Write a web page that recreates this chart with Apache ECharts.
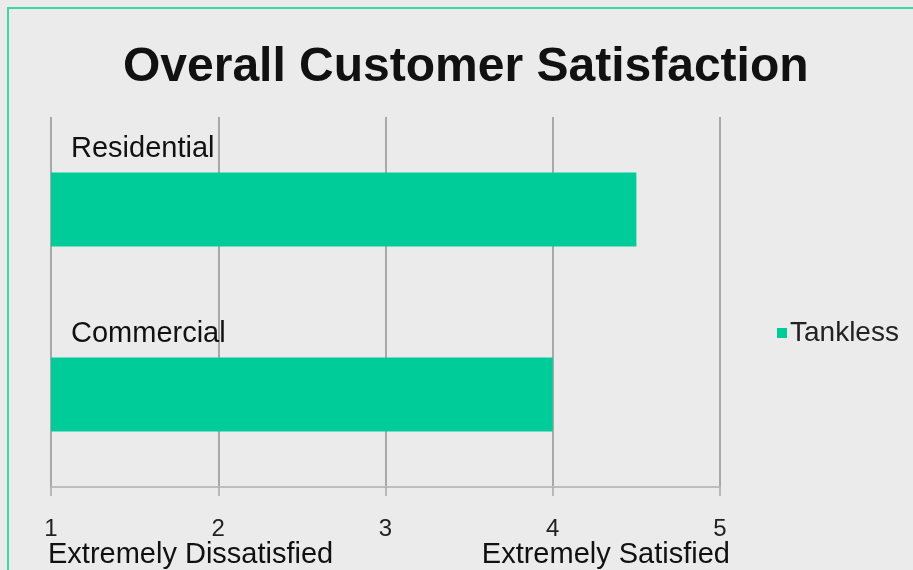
<!DOCTYPE html>
<html><head><meta charset="utf-8">
<script src="https://cdn.jsdelivr.net/npm/echarts@6/dist/echarts.min.js"></script>
<style>html,body{margin:0;padding:0;background:#ebebeb;}#c{width:913px;height:570px;}</style>
</head><body><div id="c"></div>
<script>
const titleText = 'Overall Customer Satisfaction';
const categories = ['Residential', 'Commercial'];
const seriesName = 'Tankless';
const values = [4.5, 4.0];
const scaleMin = 1, scaleMax = 5;
const endLabels = ['Extremely Dissatisfied', 'Extremely Satisfied'];

const chart = echarts.init(document.getElementById('c'));
const font = 'Liberation Sans, Arial, sans-serif';
chart.setOption({
  backgroundColor: '#ebebeb',
  animation: false,
  title: {
    text: titleText, left: 118, top: 39,
    textStyle: {fontFamily: font, fontSize: 48, fontWeight: 'bold', color: '#111'}
  },
  legend: {
    data: [seriesName], left: 772, top: 314, orient: 'vertical',
    icon: 'rect', itemWidth: 10, itemHeight: 10, itemGap: 6,
    textStyle: {fontFamily: font, fontSize: 28, color: '#222', padding: [0, 0, 0, -2]}
  },
  grid: {left: 51, right: 193, top: 117, bottom: 83},
  xAxis: {
    type: 'value', min: scaleMin, max: scaleMax, interval: 1,
    axisLine: {show: true, lineStyle: {color: '#bdbdbd', width: 2}},
    axisTick: {show: true, length: 9, lineStyle: {color: '#a8a8a8', width: 1.5}},
    splitLine: {show: true, lineStyle: {color: '#a8a8a8', width: 2}},
    axisLabel: {margin: 30, fontFamily: font, fontSize: 24, color: '#222'}
  },
  yAxis: {
    type: 'category', data: categories, inverse: true,
    axisLine: {show: false}, axisTick: {show: false}, axisLabel: {show: false},
    splitLine: {show: false}
  },
  series: [{
    name: seriesName, type: 'bar', data: values, barWidth: '40%',
    itemStyle: {color: '#00cc9a'},
    label: {
      show: true, position: [20, -24], formatter: '{b}', align: 'left', verticalAlign: 'middle',
      fontFamily: font, fontSize: 29, color: '#111'
    }
  }]
});

const p1 = chart.convertToPixel({xAxisIndex: 0}, scaleMin);
const p5 = chart.convertToPixel({xAxisIndex: 0}, scaleMax);
chart.setOption({
  graphic: [
    {type: 'rect', shape: {x: 8, y: 8, width: 1200, height: 1200}, style: {fill: 'none', stroke: '#3fd6a6', lineWidth: 2}, silent: true},
    {type: 'text', x: p1 - 3, y: 540, style: {text: endLabels[0], font: '29px ' + font, fill: '#111', textAlign: 'left'}},
    {type: 'text', x: p5 + 10, y: 540, style: {text: endLabels[1], font: '29px ' + font, fill: '#111', textAlign: 'right'}}
  ]
});
</script></body></html>
